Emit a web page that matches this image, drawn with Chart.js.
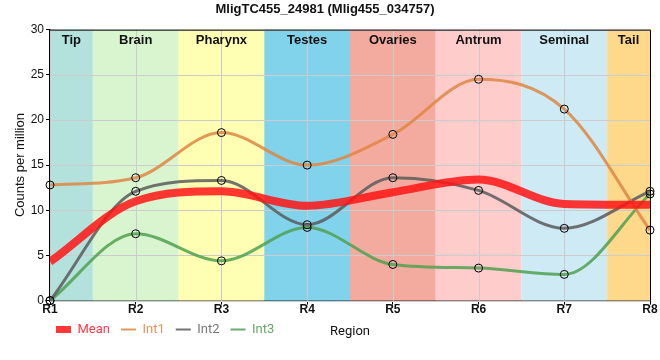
<!DOCTYPE html>
<html>
<head>
<meta charset="utf-8">
<script src="https://cdn.jsdelivr.net/npm/chart.js@4"></script>
<style>
  html, body { margin: 0; padding: 0; background: #fff; }
  #wrap { width: 660px; height: 360px; position: relative; }
</style>
</head>
<body>
<div id="wrap"><canvas id="chart" width="660" height="360"></canvas></div>
<script>
const regions   = ['R1', 'R2', 'R3', 'R4', 'R5', 'R6', 'R7', 'R8'];
const bandNames = ['Tip', 'Brain', 'Pharynx', 'Testes', 'Ovaries', 'Antrum', 'Seminal', 'Tail'];
const meanVals  = [4.3, 11.0, 12.1, 10.5, 12.0, 13.4, 10.7, 10.6];
const int1Vals  = [12.8, 13.6, 18.6, 15.0, 18.4, 24.5, 21.2, 7.8];
const int2Vals  = [0, 12.1, 13.3, 8.4, 13.6, 12.2, 8.0, 12.1];
const int3Vals  = [0, 7.4, 4.4, 8.1, 4.0, 3.6, 2.9, 11.8];

const bandColors = ['#b3e2dd', '#d9f5d0', '#ffffb3', '#80d3eb', '#f4ab9f', '#ffcccc', '#ceebf5', '#fed98c'];
const FONT = '"Liberation Sans", Arial, sans-serif';
const LEGEND_LIFT = 3;

// coloured tissue bands behind the plot, labelled at the top
const bands = {
  id: 'bands',
  afterLayout(chart) {
    const lg = chart.legend;
    lg.top -= LEGEND_LIFT; lg.bottom -= LEGEND_LIFT;
    lg.left -= 5; lg.right -= 5;
  },
  beforeDatasetsDraw(chart) {
    const { ctx, chartArea: a, scales: { x, y } } = chart;
    ctx.save();
    bandNames.forEach((name, i) => {
      const l = Math.max(a.left, x.getPixelForValue(i - 0.5));
      const r = Math.min(a.right, x.getPixelForValue(i + 0.5));
      ctx.fillStyle = bandColors[i];
      ctx.fillRect(l, a.top, r - l, a.bottom - a.top);
    });
    // grid over the bands
    ctx.strokeStyle = '#cccccc';
    ctx.lineWidth = 1;
    y.ticks.forEach(t => {
      const yy = Math.round(y.getPixelForValue(t.value)) + 0.5;
      ctx.beginPath(); ctx.moveTo(a.left, yy); ctx.lineTo(a.right, yy); ctx.stroke();
    });
    regions.forEach((_, i) => {
      const xx = Math.round(x.getPixelForValue(i)) + 0.5;
      ctx.beginPath(); ctx.moveTo(xx, a.top); ctx.lineTo(xx, a.bottom); ctx.stroke();
    });
    ctx.fillStyle = '#111';
    ctx.font = 'bold 13px ' + FONT;
    ctx.textAlign = 'center';
    ctx.textBaseline = 'middle';
    bandNames.forEach((name, i) => {
      const l = Math.max(a.left, x.getPixelForValue(i - 0.5));
      const r = Math.min(a.right, x.getPixelForValue(i + 0.5));
      ctx.fillText(name, (l + r) / 2, a.top + 11);
    });
    ctx.restore();
  },
  afterDraw(chart) {
    const { ctx, chartArea: a, legend } = chart;
    ctx.save();
    ctx.strokeStyle = '#000';
    ctx.lineWidth = 1;
    ctx.beginPath();
    ctx.moveTo(a.left, a.top + 0.5); ctx.lineTo(a.right + 0.5, a.top + 0.5);
    ctx.lineTo(a.right + 0.5, a.bottom);
    ctx.stroke();
    ctx.fillStyle = '#111';
    ctx.font = '13px Roboto, sans-serif';
    ctx.textAlign = 'center';
    ctx.textBaseline = 'middle';
    ctx.fillText('Region', (a.left + a.right) / 2, legend.top + 11 + 6.5 + 2);
    ctx.restore();
  }
};

const line = (label, data, color, width, points) => ({
  label, data,
  borderColor: color,
  backgroundColor: color,
  borderWidth: width,
  cubicInterpolationMode: 'monotone',
  pointRadius: points ? 4 : 0,
  pointBorderColor: '#000',
  pointBorderWidth: 1,
  pointBackgroundColor: 'rgba(0,0,0,0)',
  clip: points ? false : 0,
});

new Chart(document.getElementById('chart'), {
  type: 'line',
  data: {
    labels: regions,
    datasets: [
      line('Mean', meanVals, 'rgba(255,20,20,0.85)', 8, false),
      line('Int1', int1Vals, 'rgba(222,134,66,0.85)', 3, true),
      line('Int2', int2Vals, 'rgba(90,90,90,0.85)', 3, true),
      line('Int3', int3Vals, 'rgba(80,160,80,0.85)', 3, true),
    ],
  },
  options: {
    responsive: false,
    animation: false,
    layout: { padding: { left: 0, right: 10, bottom: 11 } },
    plugins: {
      title: {
        display: true,
        text: 'MligTC455_24981 (Mlig455_034757)',
        color: '#111',
        font: { family: FONT, size: 13, weight: 'bold' },
        padding: { top: 2, bottom: 12 },
      },
      legend: {
        position: 'bottom',
        align: 'start',
        fullSize: false,
        labels: {
          usePointStyle: true,
          pointStyleWidth: 15,
          boxHeight: 7,
          padding: 11,
          font: { family: 'Roboto, sans-serif', size: 13 },
          generateLabels: chart => chart.data.datasets.map((d, i) => ({
            text: d.label,
            datasetIndex: i,
            pointStyle: i === 0 ? 'rect' : 'line',
            fillStyle: d.borderColor,
            strokeStyle: d.borderColor,
            lineWidth: i === 0 ? 0 : 2,
            fontColor: ['#ff3848', '#e8925a', '#777777', '#68a868'][i],
          })),
        },
      },
      tooltip: { enabled: false },
    },
    scales: {
      x: {
        offset: false,
        grid: { display: true, drawOnChartArea: false, tickLength: 4, tickColor: '#000' },
        border: { color: '#000', width: 2 },
        ticks: { color: '#111', padding: -2, font: { family: FONT, size: 12, weight: 'bold' }, maxRotation: 0 },
      },
      y: {
        min: 0, max: 30,
        afterFit: s => { s.width = 50; },
        grid: { drawOnChartArea: false, tickLength: 4, tickColor: '#000' },
        border: { color: '#000', width: 2 },
        ticks: { stepSize: 5, color: '#111', padding: 2, font: { family: FONT, size: 12 } },
        title: {
          display: true,
          text: 'Counts per million',
          color: '#111',
          font: { family: FONT, size: 13 },
          padding: { top: 13, bottom: 0 },
        },
      },
    },
  },
  plugins: [bands],
});
</script>
</body>
</html>
